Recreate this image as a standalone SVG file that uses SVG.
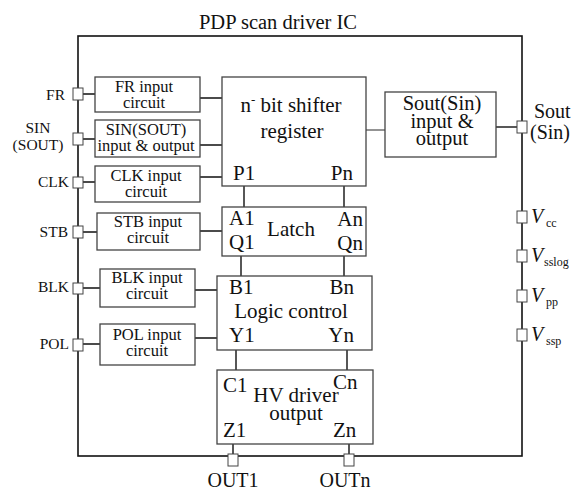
<svg xmlns="http://www.w3.org/2000/svg" width="574" height="490" viewBox="0 0 574 490">
<style>
.box{fill:#fff;stroke:#444;stroke-width:1.3}
.pin{fill:#fff;stroke:#444;stroke-width:1}
.ln{stroke:#111;stroke-width:1.4;fill:none}
.thin{stroke:#111;stroke-width:0.9;fill:none}
text{font-family:"Liberation Serif","Times New Roman",serif;fill:#111}
.s{font-size:16.5px;text-anchor:middle}
.p{font-size:15.5px}
.b{font-size:21px}
.m{text-anchor:middle}
.e{text-anchor:end}
.v{font-size:20px;font-style:italic}
.sub{font-size:12px}
</style>
<rect width="574" height="490" fill="#fff"/>
<text x="278" y="29" class="m" style="font-size:20.5px">PDP scan driver IC</text>
<g id="chip"><rect x="78" y="36" width="444" height="420" fill="none" stroke="#111" stroke-width="1.6"/></g>

<g id="connectors">
<path class="ln" d="M83 94H95M83 139H95M83 182H95M83 232H97M83 288H100M83 344H100"/>
<path class="ln" d="M200 98H222M200 145H222M200 177H222M200 231H222M195 290H217M195 338H217"/>
<path class="thin" d="M366 130H385"/>
<path class="ln" d="M496 127H517"/>
<path class="ln" d="M244 186V207M344 186V207M241 256V276M344 256V276M236 350V370M347 350V370M233 444V454M349 444V454"/>
</g>

<g id="fr_circuit"><rect class="box" x="95" y="77" width="105" height="35"/><text class="s" x="144" y="92">FR input</text><text class="s" x="144" y="108">circuit</text></g>
<g id="sin_circuit"><rect class="box" x="95" y="120" width="105" height="37"/><text class="s" x="146" y="135">SIN(SOUT)</text><text class="s" x="146" y="151">input &amp; output</text></g>
<g id="clk_circuit"><rect class="box" x="95" y="166" width="105" height="36"/><text class="s" x="146" y="181">CLK input</text><text class="s" x="146" y="197">circuit</text></g>
<g id="stb_circuit"><rect class="box" x="97" y="213" width="103" height="37"/><text class="s" x="148" y="227">STB input</text><text class="s" x="148" y="243">circuit</text></g>
<g id="blk_circuit"><rect class="box" x="100" y="269" width="95" height="38"/><text class="s" x="147" y="283">BLK input</text><text class="s" x="147" y="299">circuit</text></g>
<g id="pol_circuit"><rect class="box" x="100" y="324" width="95" height="41"/><text class="s" x="147" y="340">POL input</text><text class="s" x="147" y="356">circuit</text></g>

<g id="shift_register"><rect class="box" x="222" y="77" width="144" height="109"/>
<text class="b m" x="291" y="112">n<tspan dy="-8" style="font-size:13px">-</tspan><tspan dy="8"> bit shifter</tspan></text>
<text class="b m" x="292" y="138">register</text>
<text class="b" x="233" y="180">P1</text><text class="b e" x="353" y="180">Pn</text></g>

<g id="sout_circuit"><rect class="box" x="385" y="92" width="111" height="65"/>
<text class="m" x="442" y="110" style="font-size:20.5px">Sout(Sin)</text><text class="m" x="442" y="127.5" style="font-size:20.5px">input &amp;</text><text class="m" x="442" y="145" style="font-size:20.5px">output</text></g>

<g id="latch"><rect class="box" x="222" y="207" width="144" height="49"/>
<text class="b" x="229" y="225">A1</text><text class="b" x="229" y="249">Q1</text>
<text class="b m" x="291" y="236">Latch</text>
<text class="b e" x="363" y="226">An</text><text class="b e" x="363" y="250">Qn</text></g>

<g id="logic_control"><rect class="box" x="217" y="276" width="155" height="74"/>
<text class="b" x="229" y="294">B1</text><text class="b m" x="291" y="318">Logic control</text><text class="b" x="229" y="342">Y1</text>
<text class="b e" x="354" y="294">Bn</text><text class="b e" x="354" y="342">Yn</text></g>

<g id="hv_driver"><rect class="box" x="217" y="370" width="156" height="74"/>
<text class="b" x="223" y="392">C1</text><text class="b m" x="296" y="402">HV driver</text><text class="b m" x="296" y="420">output</text>
<text class="b" x="333" y="389">Cn</text>
<text class="b" x="223" y="437">Z1</text><text class="b" x="333" y="437">Zn</text></g>

<g id="pin_fr"><rect class="pin" x="73" y="88" width="10" height="12"/><text class="p e" x="65" y="100">FR</text></g>
<g id="pin_sin"><rect class="pin" x="73" y="133" width="10" height="12"/><text class="p m" x="38" y="133">SIN</text><text class="p m" x="38" y="150">(SOUT)</text></g>
<g id="pin_clk"><rect class="pin" x="73" y="177" width="10" height="11"/><text class="p e" x="69" y="187">CLK</text></g>
<g id="pin_stb"><rect class="pin" x="73" y="226" width="10" height="12"/><text class="p e" x="68" y="237">STB</text></g>
<g id="pin_blk"><rect class="pin" x="73" y="283" width="10" height="11"/><text class="p e" x="69" y="292">BLK</text></g>
<g id="pin_pol"><rect class="pin" x="73" y="339" width="10" height="12"/><text class="p e" x="69" y="349">POL</text></g>

<g id="pin_sout"><rect class="pin" x="517" y="121" width="10" height="12"/><text x="534" y="118" style="font-size:20px">Sout</text><text x="530" y="139" style="font-size:20px">(Sin)</text></g>
<g id="pin_vcc"><rect class="pin" x="517" y="211" width="10" height="12"/><text class="v" x="531" y="223">V</text><text class="sub" x="546" y="227">cc</text></g>
<g id="pin_vsslog"><rect class="pin" x="517" y="250" width="10" height="12"/><text class="v" x="531" y="262">V</text><text class="sub" x="544" y="266">sslog</text></g>
<g id="pin_vpp"><rect class="pin" x="517" y="290" width="10" height="12"/><text class="v" x="531" y="302">V</text><text class="sub" x="546" y="306">pp</text></g>
<g id="pin_vssp"><rect class="pin" x="517" y="329" width="10" height="12"/><text class="v" x="531" y="341">V</text><text class="sub" x="546" y="345">ssp</text></g>

<g id="pin_out1"><rect class="pin" x="228" y="454" width="10" height="12"/><text class="m" x="233" y="487" style="font-size:20px">OUT1</text></g>
<g id="pin_outn"><rect class="pin" x="344" y="454" width="10" height="12"/><text class="m" x="345" y="487" style="font-size:20px">OUTn</text></g>
</svg>
